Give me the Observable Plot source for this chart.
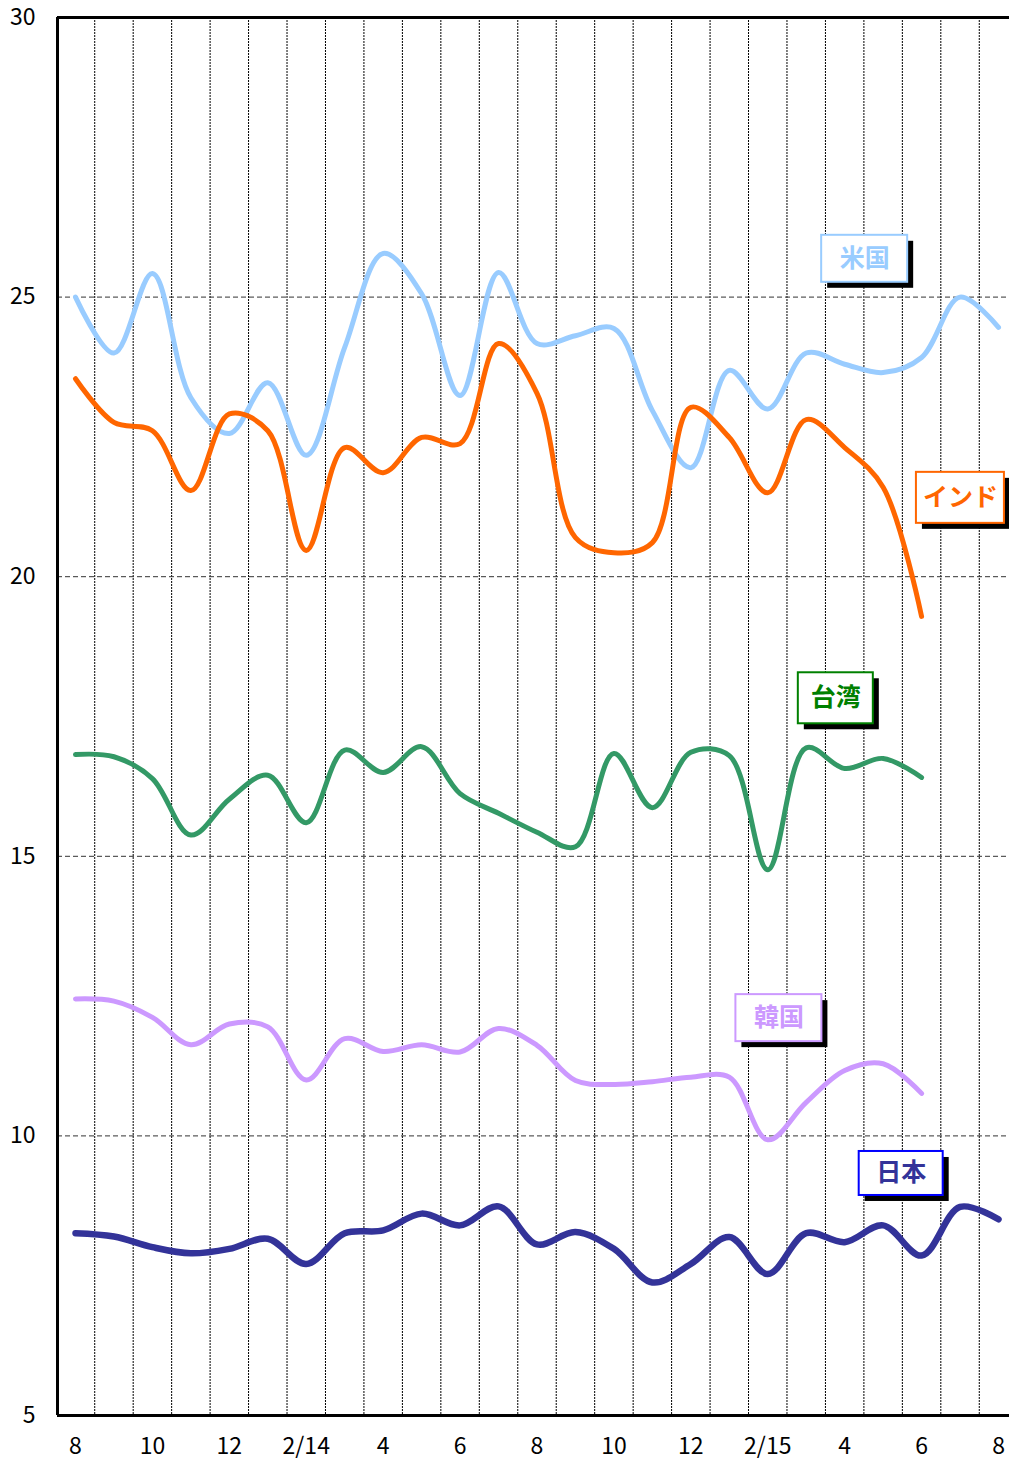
<!DOCTYPE html>
<html><head><meta charset="utf-8">
<script src="https://cdn.jsdelivr.net/npm/d3@7"></script>
<script src="https://cdn.jsdelivr.net/npm/@observablehq/plot@0.6"></script>
<style>
html,body{margin:0;padding:0;background:#fff}
#chart svg [aria-label*="axis"] text, #chart svg [aria-label*="axis"]{font-size:23px;}
</style>
</head><body><div id="chart"></div>
<script>
// Months 2013-08 .. 2015-08 (index 0..24)
const months = ["2013-08","2013-09","2013-10","2013-11","2013-12","2014-01","2014-02","2014-03","2014-04","2014-05","2014-06","2014-07","2014-08","2014-09","2014-10","2014-11","2014-12","2015-01","2015-02","2015-03","2015-04","2015-05","2015-06","2015-07","2015-08"];
const tickLabels = ["8","10","12","2/14","4","6","8","10","12","2/15","4","6","8"];
const yTicks = [5, 10, 15, 20, 25, 30];

const usa    = [25.0, 24.0, 25.42, 23.2, 22.56, 23.47, 22.17, 24.1, 25.78, 25.06, 23.24, 25.44, 24.17, 24.31, 24.44, 22.97, 21.95, 23.69, 23.0, 24.0, 23.8, 23.65, 23.92, 25.0, 24.46];
const india  = [23.54, 22.76, 22.61, 21.54, 22.91, 22.61, 20.47, 22.31, 21.86, 22.49, 22.38, 24.17, 23.28, 20.7, 20.43, 20.61, 23.03, 22.49, 21.5, 22.81, 22.31, 21.6, 19.29];
const taiwan = [16.82, 16.78, 16.39, 15.38, 16.02, 16.45, 15.6, 16.9, 16.5, 16.96, 16.12, 15.77, 15.43, 15.17, 16.84, 15.87, 16.86, 16.8, 14.76, 16.94, 16.57, 16.75, 16.41];
const korea  = [12.45, 12.41, 12.12, 11.63, 12.0, 11.95, 11.0, 11.74, 11.51, 11.63, 11.5, 11.92, 11.62, 10.99, 10.92, 10.97, 11.05, 11.05, 9.93, 10.6, 11.17, 11.29, 10.76];
const japan  = [8.26, 8.2, 8.01, 7.9, 7.98, 8.16, 7.71, 8.26, 8.31, 8.61, 8.4, 8.74, 8.06, 8.28, 7.98, 7.38, 7.71, 8.19, 7.53, 8.26, 8.1, 8.4, 7.86, 8.73, 8.51];

const seriesNames = ["米国", "インド", "台湾", "韓国", "日本"];
const seriesValues = [usa, india, taiwan, korea, japan];
const lineColors = ["#99CCFF", "#FF6600", "#339966", "#CC99FF", "#333399"];
const lineWidths = [5, 5, 5, 5, 6.5];

// label annotation placement (data units for centre, pixel size)
const labelX = [20.52, 23.01, 19.77, 18.29, 21.47];
const labelY = [25.685, 21.41, 17.826, 12.106, 9.328];
const labelW = [86, 88, 75, 86, 84];
const labelH = [47, 51, 51, 47, 44];
const labelText = ["#99CCFF", "#FF6600", "#008000", "#CC99FF", "#333399"];
const labelBorder = ["#99CCFF", "#FF6600", "#008000", "#CC99FF", "#0000FF"];

const W = 1009, H = 1459, mL = 57, mR = 0, mT = 17, mB = 44;
const xDomain = [-0.468, 24.286];
const yDomain = [5, 30];
const kx = (W - mL - mR) / (xDomain[1] - xDomain[0]);
const ky = (H - mT - mB) / (yDomain[1] - yDomain[0]);

const rows = [];
seriesValues.forEach((vals, s) => vals.forEach((v, i) => rows.push({series: seriesNames[s], i, month: months[i], value: v})));

const labels = seriesNames.map((n, s) => ({
  name: n,
  x1: labelX[s] - labelW[s] / 2 / kx, x2: labelX[s] + labelW[s] / 2 / kx,
  y1: labelY[s] - labelH[s] / 2 / ky, y2: labelY[s] + labelH[s] / 2 / ky,
  cx: labelX[s], cy: labelY[s], text: labelText[s], border: labelBorder[s]
}));

const font = "'Noto Sans CJK JP', 'Noto Sans', sans-serif";

const marks = [
  Plot.ruleX(d3.range(0.5, 24, 1), {stroke: "#000", strokeWidth: 1, strokeDasharray: "2,1"}),
  Plot.ruleY([10, 15, 20, 25], {stroke: "#333", strokeWidth: 1, strokeDasharray: "5,3"}),
  Plot.ruleX([xDomain[0]], {stroke: "#000", strokeWidth: 3}),
  Plot.ruleY([yDomain[0], yDomain[1]], {stroke: "#000", strokeWidth: 3}),
];
seriesNames.forEach((n, s) => {
  marks.push(Plot.line(rows.filter(r => r.series === n), {
    x: "i", y: "value", stroke: lineColors[s], strokeWidth: lineWidths[s],
    curve: "catmull-rom", strokeLinecap: "round", strokeLinejoin: "round"
  }));
});
marks.push(
  Plot.rect(labels, {x1: "x1", x2: "x2", y1: "y1", y2: "y2", fill: "#000", dx: 6, dy: 6}),
  Plot.rect(labels, {x1: "x1", x2: "x2", y1: "y1", y2: "y2", fill: "#fff", stroke: d => d.border, strokeWidth: 2}),
  Plot.text(labels, {x: "cx", y: "cy", text: "name", fill: d => d.text, fontSize: 25, fontWeight: "bold", fontFamily: font})
);

const chart = Plot.plot({
  width: W, height: H,
  marginLeft: mL, marginRight: mR, marginTop: mT, marginBottom: mB,
  style: {fontFamily: font, fontSize: "23px", color: "#000", background: "#fff", overflow: "visible"},
  x: {type: "linear", domain: xDomain, ticks: d3.range(0, 25, 2), tickFormat: d => tickLabels[d / 2], tickSize: 0, tickPadding: 22, label: null},
  y: {domain: yDomain, ticks: yTicks, tickSize: 0, tickPadding: 22, label: null},
  marks
});
document.getElementById("chart").appendChild(chart);
</script></body></html>
